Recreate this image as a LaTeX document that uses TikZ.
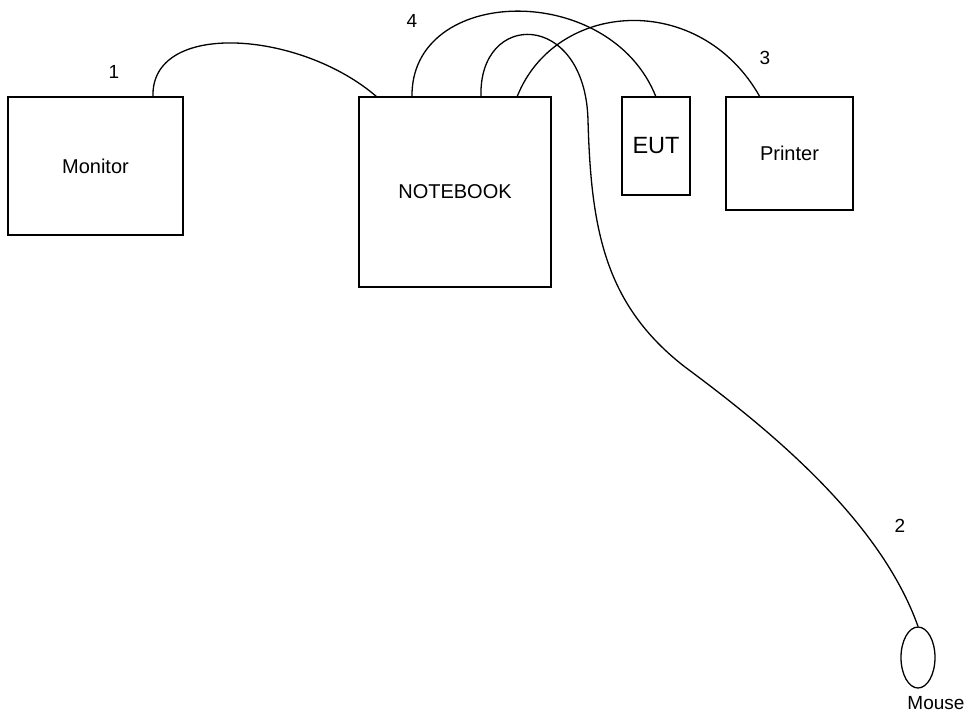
\documentclass[tikz,border=0pt]{standalone}
\usepackage{fontspec}
\setmainfont{Liberation Sans}
\usetikzlibrary{shapes.geometric}
\begin{document}
\begin{tikzpicture}[x=1pt,y=-1pt,
  box/.style={draw,line width=1.3pt,rectangle,inner sep=0pt,font=\fontsize{20}{22}\selectfont},
  cable/.style={line width=1.3pt},
  lbl/.style={inner sep=0pt,font=\fontsize{19}{21}\selectfont}]
\useasboundingbox (0,0) rectangle (970,713);
\node[box,minimum width=175,minimum height=138] (monitor) at (95.5,166) {Monitor};
\node[box,minimum width=192,minimum height=190] (notebook) at (455,192) {NOTEBOOK};
\node[box,minimum width=68,minimum height=98,font=\fontsize{23.5}{25}\selectfont] (eut) at (656,146) {EUT};
\node[box,minimum width=127,minimum height=113] (printer) at (789.5,153.5) {Printer};
\node[draw,line width=1.3pt,ellipse,minimum width=34,minimum height=61,inner sep=0pt] (mouse) at (918,657.5) {};
\node[lbl] (mlabel) at (936,703) {Mouse};
\node[lbl] (l1) at (114,72) {1};
\node[lbl] (l4) at (412,21) {4};
\node[lbl] (l3) at (765,58) {3};
\node[lbl] (l2) at (900,526) {2};
% coordinates on box tops
\coordinate (m1) at (153,97);
\coordinate (n1) at (377,97);
\coordinate (n4) at (412,97);
\coordinate (n2) at (481,97);
\coordinate (n3) at (517,97);
\coordinate (e4) at (656,97);
\coordinate (p3) at (760,97);
\draw[cable] (m1) .. controls (150,20) and (300,30) .. (n1);
\draw[cable] (n4) .. controls (410,-15) and (610,-20) .. (e4);
\draw[cable] (n3) .. controls (555,0) and (700,-10) .. (p3);
\draw[cable] (n2) .. controls (478,10) and (585,10) .. (588,120)
  .. controls (591,230) and (605,305) .. (685,367)
  .. controls (770,430) and (880,520) .. (mouse.north);
\end{tikzpicture}
\end{document}
